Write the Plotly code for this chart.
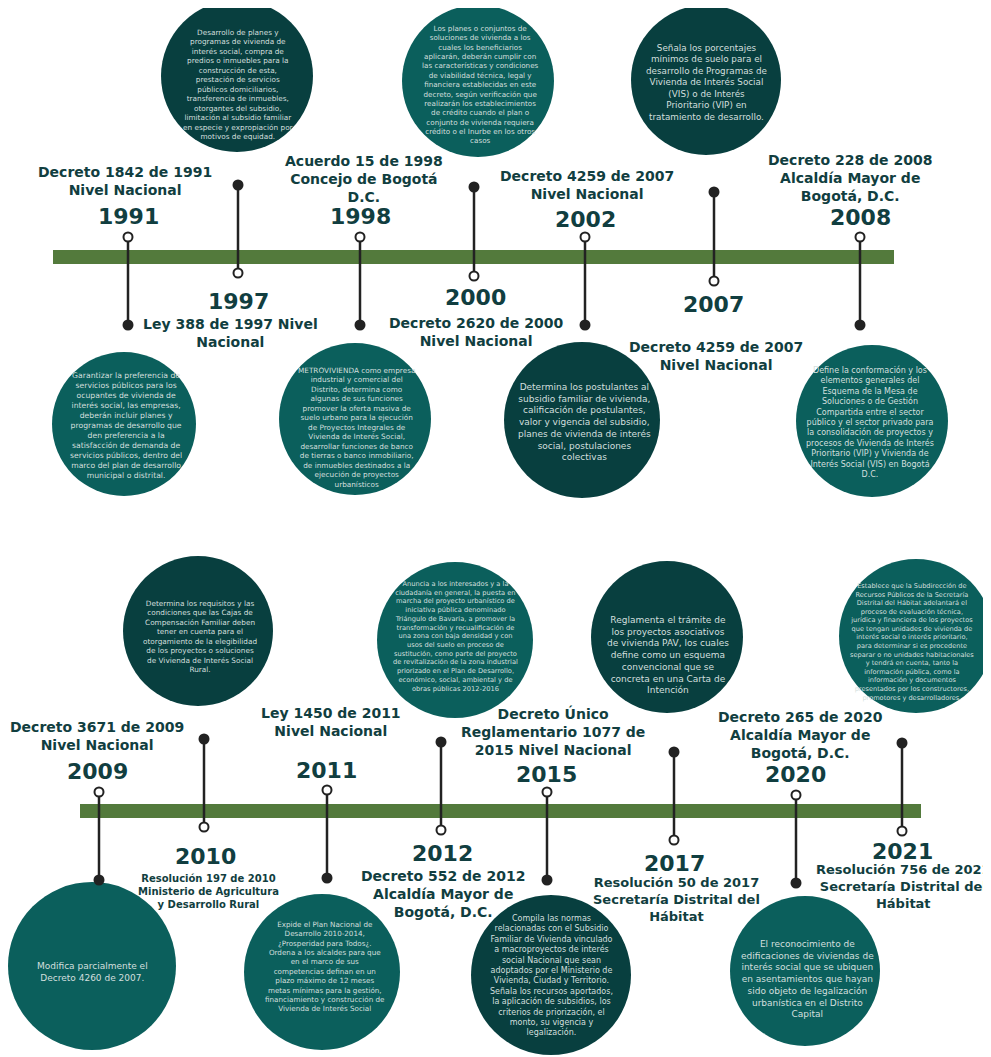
import plotly.graph_objects as go

# ---------------- data ----------------
years = ["1991", "1997", "1998", "2000", "2002", "2007", "2008",
         "2009", "2010", "2011", "2012", "2015", "2017", "2020", "2021"]

titles = [
    ["Decreto 1842 de 1991", "Nivel Nacional"],
    ["Ley 388 de 1997 Nivel", "Nacional"],
    ["Acuerdo 15 de 1998", "Concejo de Bogotá", "D.C."],
    ["Decreto 2620 de 2000", "Nivel Nacional"],
    ["Decreto 4259 de 2007", "Nivel Nacional"],
    ["Decreto 4259 de 2007", "Nivel Nacional"],
    ["Decreto 228 de 2008", "Alcaldía Mayor de", "Bogotá, D.C."],
    ["Decreto 3671 de 2009", "Nivel Nacional"],
    ["Resolución 197 de 2010", "Ministerio de Agricultura", "y Desarrollo Rural"],
    ["Ley 1450 de 2011", "Nivel Nacional"],
    ["Decreto 552 de 2012", "Alcaldía Mayor de", "Bogotá, D.C."],
    ["Decreto Único", "Reglamentario 1077 de", "2015 Nivel Nacional"],
    ["Resolución 50 de 2017", "Secretaría Distrital del", "Hábitat"],
    ["Decreto 265 de 2020", "Alcaldía Mayor de", "Bogotá, D.C."],
    ["Resolución 756 de 2021", "Secretaría Distrital del", "Hábitat"],
]

descriptions = [
    ["Garantizar la preferencia de", "servicios públicos para los", "ocupantes de vivienda de",
     "interés social, las empresas,", "deberán incluir planes y", "programas de desarrollo que",
     "den preferencia a la", "satisfacción de demanda de", "servicios públicos, dentro del",
     "marco del plan de desarrollo", "municipal o distrital."],
    ["Desarrollo de planes y", "programas de vivienda de", "interés social, compra de",
     "predios o inmuebles para la", "construcción de esta,", "prestación de servicios",
     "públicos domiciliarios,", "transferencia de inmuebles,", "otorgantes del subsidio,",
     "limitación al subsidio familiar", "en especie y expropiación por", "motivos de equidad."],
    ["METROVIVIENDA como empresa", "industrial y comercial del", "Distrito, determina como",
     "algunas de sus funciones", "promover la oferta masiva de", "suelo urbano para la ejecución",
     "de Proyectos Integrales de", "Vivienda de Interés Social,", "desarrollar funciones de banco",
     "de tierras o banco inmobiliario,", "de inmuebles destinados a la", "ejecución de proyectos",
     "urbanísticos"],
    ["Los planes o conjuntos de", "soluciones de vivienda a los", "cuales los beneficiarios",
     "aplicarán, deberán cumplir con", "las características y condiciones", "de viabilidad técnica, legal y",
     "financiera establecidas en este", "decreto, según verificación que", "realizarán los establecimientos",
     "de crédito cuando el plan o", "conjunto de vivienda requiera", "crédito o el Inurbe en los otros",
     "casos"],
    ["Determina los postulantes al", "subsidio familiar de vivienda,", "calificación de postulantes,",
     "valor y vigencia del subsidio,", "planes de vivienda de interés", "social, postulaciones",
     "colectivas"],
    ["Señala los porcentajes", "mínimos de suelo para el", "desarrollo de Programas de",
     "Vivienda de Interés Social", "(VIS) o de Interés", "Prioritario (VIP) en",
     "tratamiento de desarrollo."],
    ["Define la conformación y los", "elementos generales del", "Esquema de la Mesa de",
     "Soluciones o de Gestión", "Compartida entre el sector", "público y el sector privado para",
     "la consolidación de proyectos y", "procesos de Vivienda de Interés", "Prioritario (VIP) y Vivienda de",
     "Interés Social (VIS) en Bogotá", "D.C."],
    ["Modifica parcialmente el", "Decreto 4260 de 2007."],
    ["Determina los requisitos y las", "condiciones que las Cajas de", "Compensación Familiar deben",
     "tener en cuenta para el", "otorgamiento de la elegibilidad", "de los proyectos o soluciones",
     "de Vivienda de Interés Social", "Rural."],
    ["Expide el Plan Nacional de", "Desarrollo 2010-2014,", "¿Prosperidad para Todos¿.",
     "Ordena a los alcaldes para que", "en el marco de sus", "competencias definan en un",
     "plazo máximo de 12 meses", "metas mínimas para la gestión,", "financiamiento y construcción de",
     "Vivienda de Interés Social"],
    ["Anuncia a los interesados y a la", "ciudadanía en general, la puesta en",
     "marcha del proyecto urbanístico de", "iniciativa pública denominado",
     "Triángulo de Bavaria, a promover la", "transformación y recualificación de",
     "una zona con baja densidad y con", "usos del suelo en proceso de",
     "sustitución, como parte del proyecto", "de revitalización de la zona industrial",
     "priorizado en el Plan de Desarrollo,", "económico, social, ambiental y de",
     "obras públicas 2012-2016"],
    ["Compila las normas", "relacionadas con el Subsidio", "Familiar de Vivienda vinculado",
     "a macroproyectos de interés", "social Nacional que sean", "adoptados por el Ministerio de",
     "Vivienda, Ciudad y Territorio.", "Señala los recursos aportados,", "la aplicación de subsidios, los",
     "criterios de priorización, el", "monto, su vigencia y", "legalización."],
    ["Reglamenta el trámite de", "los proyectos asociativos", "de vivienda PAV, los cuales",
     "define como un esquema", "convencional que se", "concreta en una Carta de", "Intención"],
    ["El reconocimiento de", "edificaciones de viviendas de", "interés social que se ubiquen",
     "en asentamientos que hayan", "sido objeto de legalización", "urbanística en el Distrito",
     "Capital"],
    ["Establece que la Subdirección de", "Recursos Públicos de la Secretaría",
     "Distrital del Hábitat adelantará el", "proceso de evaluación técnica,",
     "jurídica y financiera de los proyectos", "que tengan unidades de vivienda de",
     "interés social o interés prioritario,", "para determinar si es procedente",
     "separar o no unidades habitacionales", "y tendrá en cuenta, tanto la",
     "información pública, como la", "información y documentos",
     "presentados por los constructores,", "promotores y desarrolladores."],
]

# ---------------- layout (positions / styles) ----------------
W, H = 991, 1057
OFF = 8  # page body margin compensation
TEAL, DARK = "#0b5f5c", "#083f3f"
LABEL_C = "#113e40"
TXT_C = "#d3dfde"
BAR_C = "#537a3c"
LINE_C = "#222222"

bars = [(53, 894, 257), (80, 921, 811)]

event_x = [128, 238, 360, 474, 585, 714, 860, 99, 204, 327, 441, 547, 674, 796, 902]
conn_top = [237, 185, 237, 187, 237, 192, 237, 792, 739, 790, 742, 792, 752, 795, 743]
conn_bot = [325, 273, 325, 276, 325, 281, 325, 880, 827, 878, 830, 880, 840, 883, 831]
hollow_top = [True, False, True, False, True, False, True,
              True, False, True, False, True, False, True, False]

title_x = [125, 230, 364, 476, 587, 716, 850, 97, 208, 331, 443, 553, 676, 800, 903]
title_y = [180.5, 332.5, 179, 331.5, 184.5, 355.5, 178, 735.5, 891.5, 722, 894, 731, 899, 735, 886]
title_size = [14, 14, 14, 14, 14, 14, 14, 14, 10, 14, 14, 14, 13, 14, 13]
year_x = [128, 238, 360, 475, 585, 713, 860, 97, 205, 326, 442, 546, 674, 795, 902]
year_y = [216, 301, 216, 297, 219, 304, 217, 771, 856, 770, 853, 774, 863, 774, 851]

circ_cx = [124, 237, 355, 478, 582, 706, 872, 92, 198, 322, 455, 551, 667, 805, 916]
circ_cy = [424, 76, 419, 81, 420, 80, 421, 966, 631, 972, 640, 975, 637, 971, 636]
circ_r = [72, 76, 76, 76, 78, 75, 76, 84, 75, 78, 78, 80, 76, 75, 77]
circ_col = [TEAL, DARK, TEAL, TEAL, DARK, DARK, TEAL, TEAL, DARK, TEAL, TEAL, DARK, DARK, TEAL, TEAL]
txt_x = [126, 238, 356, 480, 584, 706, 870, 92, 200, 325, 455, 551, 668, 807, 912]
txt_y = [425, 84, 427, 84, 422, 82, 422, 972, 636, 966, 636, 975, 655, 979, 642]
txt_size = [7.7, 7.3, 7.3, 7.2, 9, 8.8, 8, 9, 7.3, 7.2, 6.7, 8, 9, 9, 6.6]

fig = go.Figure()
shapes = []
for x0, x1, yc in bars:
    shapes.append(dict(type="rect", xref="x", yref="y", x0=x0, x1=x1, y0=yc - 7, y1=yc + 7,
                       fillcolor=BAR_C, line=dict(width=0), layer="below"))
for cx, cy, r, col in zip(circ_cx, circ_cy, circ_r, circ_col):
    shapes.append(dict(type="circle", xref="x", yref="y", x0=cx - r, x1=cx + r, y0=cy - r, y1=cy + r,
                       fillcolor=col, line=dict(width=0), layer="below"))

# connectors
lx, ly = [], []
for x, t, b in zip(event_x, conn_top, conn_bot):
    lx += [x, x, None]
    ly += [t, b, None]
fig.add_trace(go.Scatter(x=lx, y=ly, mode="lines", line=dict(color=LINE_C, width=2.5),
                         hoverinfo="skip", showlegend=False))
hx, hy, fx, fy = [], [], [], []
for x, t, b, ht in zip(event_x, conn_top, conn_bot, hollow_top):
    if ht:
        hx.append(x); hy.append(t); fx.append(x); fy.append(b)
    else:
        fx.append(x); fy.append(t); hx.append(x); hy.append(b)
fig.add_trace(go.Scatter(x=fx, y=fy, mode="markers",
                         marker=dict(size=11, color=LINE_C, line=dict(width=0)),
                         hoverinfo="skip", showlegend=False))
fig.add_trace(go.Scatter(x=hx, y=hy, mode="markers",
                         marker=dict(size=9, color="white", line=dict(width=2, color=LINE_C)),
                         hoverinfo="skip", showlegend=False))

ann = []
for i in range(len(years)):
    ann.append(dict(x=title_x[i], y=title_y[i], xref="x", yref="y", showarrow=False,
                    text="<br>".join(titles[i]), xanchor="center", yanchor="middle",
                    font=dict(family="DejaVu Sans", size=title_size[i], color=LABEL_C, weight="bold")))
    ann.append(dict(x=year_x[i], y=year_y[i], xref="x", yref="y", showarrow=False,
                    text=years[i], xanchor="center", yanchor="middle",
                    font=dict(family="DejaVu Sans", size=22, color=LABEL_C, weight="bold")))
    ann.append(dict(x=txt_x[i], y=txt_y[i], xref="x", yref="y", showarrow=False,
                    text="<br>".join(descriptions[i]), xanchor="center", yanchor="middle",
                    font=dict(family="DejaVu Sans", size=txt_size[i], color=TXT_C)))

fig.update_layout(
    width=W, height=H, margin=dict(l=0, r=0, t=0, b=0),
    paper_bgcolor="white", plot_bgcolor="white",
    shapes=shapes, annotations=ann, showlegend=False,
    xaxis=dict(range=[OFF, W + OFF], visible=False, fixedrange=True),
    yaxis=dict(range=[H + OFF, OFF], visible=False, fixedrange=True),
)
fig.write_html("out.html")
